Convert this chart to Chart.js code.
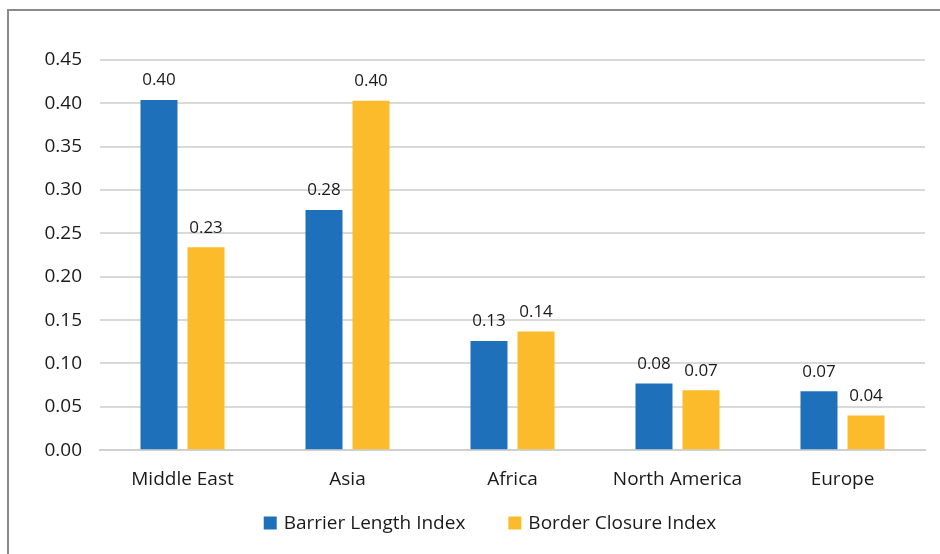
<!DOCTYPE html>
<html>
<head>
<meta charset="utf-8">
<script src="https://cdn.jsdelivr.net/npm/chart.js@4/dist/chart.umd.min.js"></script>
<style>
  html, body { margin: 0; padding: 0; background: #ffffff; }
  #wrap { width: 940px; height: 554px; position: relative; }
</style>
</head>
<body>
<div id="wrap"><canvas id="chart" width="940" height="554"></canvas></div>
<script>
// Regional wall indices
const regions = ['Middle East', 'Asia', 'Africa', 'North America', 'Europe'];
const barrierLength = [0.404, 0.277, 0.126, 0.077, 0.068];
const borderClosure = [0.234, 0.403, 0.137, 0.069, 0.040];
const yTicks = [0, 0.05, 0.10, 0.15, 0.20, 0.25, 0.30, 0.35, 0.40, 0.45];

const FONT = '"Open Sans", "Liberation Sans", sans-serif';
const BLUE = '#1F70BA';
const YELLOW = '#FCBB2B';

// Frame line along the top and left edges
const framePlugin = {
  id: 'frame',
  beforeDraw(chart) {
    const c = chart.ctx;
    c.save();
    c.fillStyle = '#ffffff';
    c.fillRect(0, 0, chart.width, chart.height);
    c.strokeStyle = '#8a8a8a';
    c.lineWidth = 2;
    c.beginPath();
    c.moveTo(8, chart.height);
    c.lineTo(8, 10);
    c.lineTo(chart.width, 10);
    c.stroke();
    c.restore();
  }
};

// Value labels above each bar
const valueLabels = {
  id: 'valueLabels',
  afterDatasetsDraw(chart) {
    const c = chart.ctx;
    c.save();
    c.font = '17px ' + FONT;
    c.fillStyle = '#1a1a1a';
    c.textAlign = 'center';
    c.textBaseline = 'bottom';
    chart.data.datasets.forEach((ds, i) => {
      chart.getDatasetMeta(i).data.forEach((bar, j) => {
        c.fillText(ds.data[j].toFixed(2), bar.x, bar.y - 11);
      });
    });
    c.restore();
  }
};

// Series key centred under the plot, with wide spacing between entries
const seriesKey = {
  id: 'seriesKey',
  afterDraw(chart) {
    const c = chart.ctx;
    const box = 13, gapText = 7, gapItem = 43, cy = 523, cx = 490;
    c.save();
    c.font = '19px ' + FONT;
    c.textBaseline = 'middle';
    c.textAlign = 'left';
    const items = chart.data.datasets.map(ds => ({
      text: ds.label, color: ds.backgroundColor, w: box + gapText + c.measureText(ds.label).width
    }));
    const total = items.reduce((s, it) => s + it.w, 0) + gapItem * (items.length - 1);
    let x = cx - total / 2;
    items.forEach(it => {
      c.fillStyle = it.color;
      c.fillRect(x, cy - box / 2, box, box);
      c.fillStyle = '#1a1a1a';
      c.fillText(it.text, x + box + gapText, cy + 1);
      x += it.w + gapItem;
    });
    c.restore();
  }
};

new Chart(document.getElementById('chart'), {
  type: 'bar',
  data: {
    labels: regions,
    datasets: [
      { label: 'Barrier Length Index', data: barrierLength, backgroundColor: BLUE },
      { label: 'Border Closure Index', data: borderClosure, backgroundColor: YELLOW }
    ]
  },
  options: {
    responsive: false,
    animation: false,
    devicePixelRatio: 1,
    layout: { padding: { top: 60, right: 15, left: 0, bottom: 45 } },
    datasets: { bar: { categoryPercentage: 0.57, barPercentage: 0.787 } },
    plugins: {
      legend: { display: false },
      tooltip: { enabled: false }
    },
    scales: {
      x: {
        grid: { display: false, drawTicks: false },
        border: { display: true, color: '#d0d0d0', width: 2 },
        ticks: { font: { family: FONT, size: 19 }, color: '#1a1a1a', padding: 18 }
      },
      y: {
        min: 0,
        max: 0.45,
        afterFit(scale) { scale.width = 100; },
        afterBuildTicks(scale) { scale.ticks = yTicks.map(v => ({ value: v })); },
        grid: { color: '#d9d9d9', lineWidth: 2, drawTicks: false },
        border: { display: false },
        ticks: {
          font: { family: FONT, size: 19 },
          color: '#1a1a1a',
          padding: 18,
          callback: v => v.toFixed(2)
        }
      }
    }
  },
  plugins: [framePlugin, valueLabels, seriesKey]
});
</script>
</body>
</html>
